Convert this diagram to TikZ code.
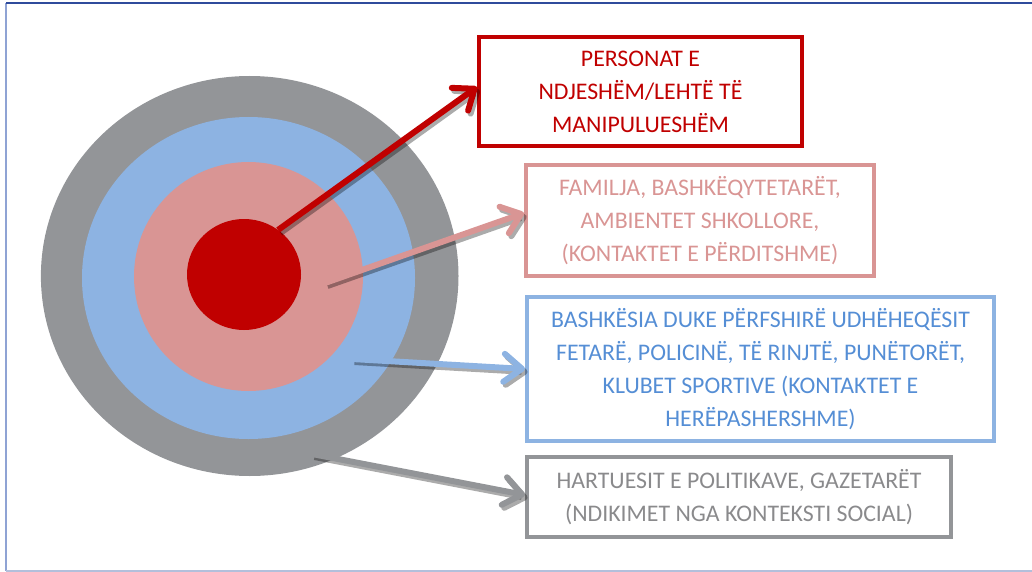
\documentclass[tikz,border=0pt]{standalone}
\usepackage{fontspec}
\setmainfont{Carlito}
\usetikzlibrary{arrows.meta}
\definecolor{darkred}{HTML}{C00000}
\definecolor{rosepink}{HTML}{D99594}
\definecolor{skyblue}{HTML}{8DB3E2}
\definecolor{textblue}{HTML}{558ED5}
\definecolor{ringgray}{HTML}{939598}
\definecolor{textgray}{HTML}{8A8A8C}
\definecolor{frametop}{HTML}{2F4B9C}
\definecolor{frameside}{HTML}{8FA3D4}
\definecolor{framebottom}{HTML}{B3BFDB}
\begin{document}
\begin{tikzpicture}[x=1pt, y=-1pt,
    pointer/.style={line width=6pt, -{Straight Barb[length=18pt, width=28pt, round]}},
    arrowshadow/.style={pointer, draw=black, draw opacity=0.33, transform canvas={shift={(2.5pt,-3pt)}}}]
    \useasboundingbox (0, 0) rectangle (1032, 572);
    \draw[frameside, line width=2pt] (6, 3) -- (6, 571);
    \draw[framebottom, line width=2pt] (6, 571) -- (1032, 571);
    \draw[frametop, line width=1.5pt] (6, 3) -- (1032, 3);

    \fill[ringgray] (249.7, 276) ellipse [x radius=208.8, y radius=200];
    \fill[skyblue] (248.5, 278) ellipse [x radius=166.5, y radius=161];
    \fill[rosepink] (248.5, 276.5) circle [radius=114.5];
    \fill[darkred] (244, 274.5) ellipse [x radius=57, y radius=55.5];

    \coordinate (core) at (278, 230);
    \coordinate (family) at (325, 283);
    \coordinate (community) at (352, 359);
    \coordinate (society) at (312, 454);

    \begin{scope}[every node/.style={rectangle, draw, align=center, inner sep=0pt,
        font=\fontsize{23.8}{33}\selectfont}]
      \node[draw=darkred, text=darkred, line width=4pt, minimum width=323, minimum height=109]
        (redbox) at (640.5, 91.5) {PERSONAT E\\NDJESHËM/LEHTË TË\\MANIPULUESHËM};
      \node[draw=rosepink, text=rosepink, line width=4pt, minimum width=348, minimum height=111]
        (pinkbox) at (700, 220.5) {FAMILJA, BASHKËQYTETARËT,\\AMBIENTET SHKOLLORE,\\(KONTAKTET E PËRDITSHME)};
      \node[draw=skyblue, text=textblue, line width=4pt, minimum width=467, minimum height=144]
        (bluebox) at (760.5, 369) {BASHKËSIA DUKE PËRFSHIRË UDHËHEQËSIT\\FETARË, POLICINË, TË RINJTË, PUNËTORËT,\\KLUBET SPORTIVE (KONTAKTET E\\HERËPASHERSHME)};
      \node[draw=ringgray, text=textgray, line width=4pt, minimum width=424, minimum height=80]
        (graybox) at (739, 497) {HARTUESIT E POLITIKAVE, GAZETARËT\\(NDIKIMET NGA KONTEKSTI SOCIAL)};
    \end{scope}

    \draw[arrowshadow] (core) -- ([yshift=4.5pt]redbox.west);
    \draw[pointer, darkred] (core) -- ([yshift=4.5pt]redbox.west);
    \draw[arrowshadow] (family) -- ([yshift=7.5pt]pinkbox.west);
    \draw[pointer, rosepink] (family) -- ([yshift=7.5pt]pinkbox.west);
    \draw[arrowshadow] (community) -- (bluebox.west);
    \draw[pointer, skyblue] (community) -- (bluebox.west);
    \draw[arrowshadow] (society) -- ([yshift=2pt]graybox.west);
    \draw[pointer, ringgray] (society) -- ([yshift=2pt]graybox.west);
  \end{tikzpicture}
\end{document}
